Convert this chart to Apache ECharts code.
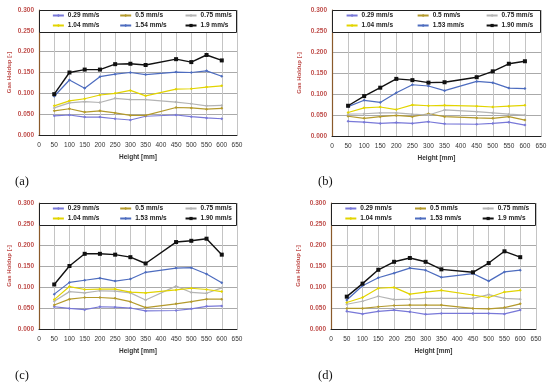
<!DOCTYPE html>
<html><head><meta charset="utf-8">
<script src="https://cdn.jsdelivr.net/npm/echarts@6/dist/echarts.min.js"></script>
<style>html,body{margin:0;padding:0;background:#fff}#c{width:550px;height:387px}</style>
</head><body><div id="c"></div>
<script>
const HEIGHTS = [50,100,150,200,250,300,350,450,500,550,600];
const X_TICKS = [0,50,100,150,200,250,300,350,400,450,500,550,600,650];
const Y_TICKS = [0,0.05,0.10,0.15,0.20,0.25,0.30];

const NAMES_A = ['0.29 mm/s','0.5 mm/s','0.75 mm/s','1.04 mm/s','1.54 mm/s','1.9 mm/s'];
const NAMES_B = ['0.29 mm/s','0.5 mm/s','0.75 mm/s','1.04 mm/s','1.53 mm/s','1.90 mm/s'];
const NAMES_C = ['0.29 mm/s','0.5 mm/s','0.75 mm/s','1.04 mm/s','1.53 mm/s','1.90 mm/s'];
const NAMES_D = ['0.29 mm/s','0.5 mm/s','0.75 mm/s','1.04 mm/s','1.53 mm/s','1.9 mm/s'];

// Panel (a)
const A_029 = [0.046,0.048,0.043,0.043,0.039,0.036,0.045,0.048,0.044,0.041,0.039];
const A_050 = [0.058,0.063,0.055,0.058,0.053,0.047,0.047,0.066,0.065,0.062,0.064];
const A_075 = [0.065,0.077,0.080,0.078,0.088,0.085,0.085,0.079,0.075,0.070,0.071];
const A_104 = [0.070,0.082,0.087,0.096,0.100,0.107,0.094,0.110,0.111,0.115,0.118];
const A_154 = [0.093,0.132,0.112,0.140,0.146,0.150,0.145,0.151,0.150,0.154,0.141];
const A_190 = [0.098,0.150,0.157,0.157,0.170,0.171,0.168,0.182,0.175,0.192,0.179];
// Panel (b)
const B_029 = [0.035,0.033,0.030,0.032,0.030,0.034,0.029,0.028,0.030,0.033,0.026];
const B_050 = [0.047,0.042,0.046,0.049,0.046,0.053,0.046,0.043,0.042,0.046,0.038];
const B_075 = [0.052,0.053,0.055,0.055,0.052,0.050,0.062,0.058,0.055,0.052,0.050];
const B_104 = [0.056,0.067,0.069,0.063,0.074,0.072,0.073,0.071,0.069,0.071,0.073];
const B_153 = [0.070,0.085,0.080,0.103,0.122,0.119,0.108,0.130,0.127,0.114,0.113];
const B_190 = [0.072,0.095,0.115,0.136,0.133,0.127,0.128,0.140,0.154,0.172,0.178];
// Panel (c)
const C_029 = [0.053,0.049,0.046,0.053,0.052,0.050,0.043,0.044,0.048,0.054,0.055];
const C_050 = [0.057,0.071,0.075,0.075,0.073,0.065,0.051,0.060,0.065,0.071,0.071];
const C_075 = [0.066,0.089,0.086,0.091,0.090,0.086,0.069,0.102,0.087,0.085,0.098];
const C_104 = [0.070,0.101,0.094,0.095,0.095,0.088,0.086,0.093,0.097,0.094,0.089];
const C_153 = [0.083,0.111,0.116,0.121,0.114,0.119,0.135,0.145,0.146,0.131,0.110];
const C_190 = [0.106,0.150,0.179,0.179,0.177,0.171,0.156,0.207,0.210,0.215,0.177];
// Panel (d)
const D_029 = [0.042,0.036,0.042,0.045,0.041,0.035,0.037,0.037,0.037,0.036,0.045];
const D_050 = [0.049,0.049,0.053,0.056,0.057,0.057,0.057,0.049,0.048,0.051,0.060];
const D_075 = [0.059,0.066,0.078,0.070,0.071,0.073,0.073,0.073,0.082,0.073,0.071];
const D_104 = [0.063,0.075,0.097,0.099,0.083,0.088,0.092,0.081,0.075,0.088,0.092];
const D_153 = [0.069,0.103,0.122,0.133,0.145,0.140,0.123,0.132,0.114,0.136,0.140];
const D_190 = [0.077,0.108,0.141,0.160,0.169,0.160,0.142,0.135,0.157,0.185,0.171];

const PANEL_LABELS = ['(a)','(b)','(c)','(d)'];

const COLORS = ['#7878d8','#b49a2c','#b4b4b4','#e2d400','#4d6cbf','#111111'];
const SYMBOLS = ['diamond','diamond','diamond','diamond','diamond','rect'];

const panels = [
  {names:NAMES_A, data:[A_029,A_050,A_075,A_104,A_154,A_190], grid:{left:39,top:10,width:198,height:125}, label:[15,175], yname:27},
  {names:NAMES_B, data:[B_029,B_050,B_075,B_104,B_153,B_190], grid:{left:332,top:10,width:209,height:126}, label:[318,175], yname:30},
  {names:NAMES_C, data:[C_029,C_050,C_075,C_104,C_153,C_190], grid:{left:39,top:203,width:198,height:126}, label:[15,369], yname:27},
  {names:NAMES_D, data:[D_029,D_050,D_075,D_104,D_153,D_190], grid:{left:331,top:203,width:205,height:126}, label:[318,369], yname:30}
];

const FONT = "'Liberation Sans', Arial, sans-serif";
const grids=[], xAxes=[], yAxes=[], series=[], legends=[], graphics=[];
panels.forEach((p,i)=>{
  grids.push(Object.assign({containLabel:false}, p.grid));
  xAxes.push({type:'value', gridIndex:i, min:X_TICKS[0], max:X_TICKS[X_TICKS.length-1], interval:50,
    name:'Height [mm]', nameLocation:'middle', nameGap:19,
    nameTextStyle:{fontSize:6.5, fontWeight:'bold', color:'#333', fontFamily:FONT},
    axisLine:{show:true, onZero:false, lineStyle:{color:'#222', width:1}},
    axisTick:{show:false},
    axisLabel:{fontSize:6.5, color:'#333', margin:7, fontFamily:FONT},
    splitLine:{show:true, lineStyle:{color:'#c4c4c4', width:1}}
  });
  yAxes.push({type:'value', gridIndex:i, min:Y_TICKS[0], max:Y_TICKS[Y_TICKS.length-1], interval:0.05,
    name:'Gas Holdup [-]', nameLocation:'middle', nameGap:p.yname,
    nameTextStyle:{fontSize:6, fontWeight:'bold', color:'#c0504d', fontFamily:FONT},
    axisLine:{show:true, lineStyle:{color:'#8a5a2b', width:1.2}},
    axisTick:{show:false},
    axisLabel:{fontSize:6.5, fontWeight:'bold', color:'#c0504d', margin:5, fontFamily:FONT,
      formatter:v=>v.toFixed(3)},
    splitLine:{show:true, lineStyle:{color:'#aaaaaa', width:1}}
  });
  p.data.forEach((arr,k)=>{
    series.push({type:'line', name:p.names[k], xAxisIndex:i, yAxisIndex:i,
      data:HEIGHTS.map((h,j)=>[h,arr[j]]),
      symbol:SYMBOLS[k], symbolSize:k===5?4:3, showSymbol:true,
      itemStyle:{color:COLORS[k]},
      lineStyle:{color:COLORS[k], width:k===5?1.4:1.2},
      z:3+k, animation:false});
  });
  const cols=[0.065,0.405,0.735];
  for(let c=0;c<3;c++){
    legends.push({orient:'vertical', left:p.grid.left+cols[c]*p.grid.width, top:p.grid.top+2,
      padding:0, itemGap:3, itemWidth:11, itemHeight:4,
      data:[p.names[c], p.names[c+3]], selectedMode:false, z:10,
      textStyle:{fontSize:6.5, fontWeight:'bold', color:'#222', fontFamily:FONT, padding:[0,0,0,-1]}});
  }
  graphics.push({type:'text', left:p.label[0], top:p.label[1],
    style:{text:PANEL_LABELS[i], fontSize:12.5, fontFamily:"'Liberation Serif','DejaVu Serif',serif", fill:'#111'}});
});

const chart = echarts.init(document.getElementById('c'), null, {renderer:'canvas'});
chart.setOption({animation:false, backgroundColor:'#fff', grid:grids, xAxis:xAxes, yAxis:yAxes,
  series:series, legend:legends, graphic:graphics});

// legend box: white rectangle with black border across the top band of each plot
const boxes = panels.map((p,i)=>{
  const tl = chart.convertToPixel({gridIndex:i}, [X_TICKS[0], Y_TICKS[6]]);
  const br = chart.convertToPixel({gridIndex:i}, [X_TICKS[X_TICKS.length-1], 0.248]);
  return {type:'rect', z:5, shape:{x:Math.round(tl[0])+0.5, y:Math.round(tl[1])+0.5,
    width:Math.round(br[0]-tl[0])-1, height:Math.round(br[1]-tl[1])},
    style:{fill:'#fff', stroke:'#222', lineWidth:1}};
});
chart.setOption({graphic:graphics.concat(boxes)});
</script></body></html>
